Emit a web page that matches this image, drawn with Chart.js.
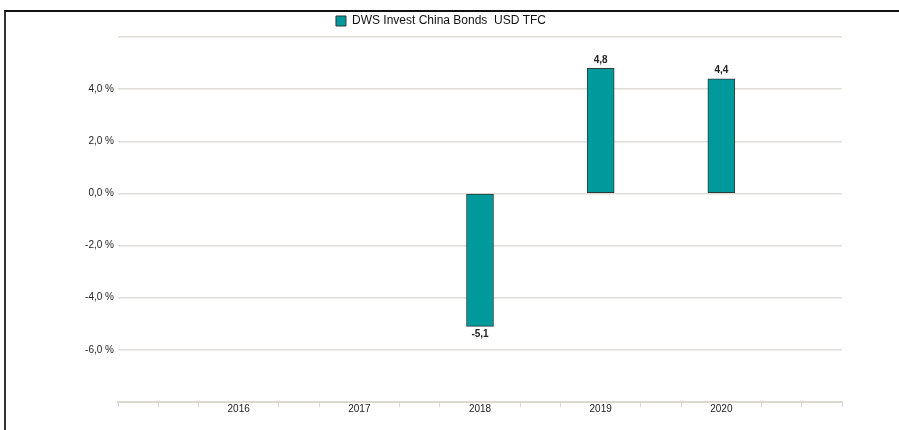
<!DOCTYPE html>
<html>
<head>
<meta charset="utf-8">
<script src="https://cdn.jsdelivr.net/npm/chart.js@4/dist/chart.umd.min.js"></script>
<style>
  body { margin: 0; background: #fff; }
  #wrap { position: relative; width: 899px; height: 430px; }
  #frame { position: absolute; left: 4px; top: 10px; right: 0; bottom: 0;
           border-left: 2px solid #333; border-top: 2px solid #111; pointer-events: none; }
</style>
</head>
<body>
<div id="wrap">
  <canvas id="myChart" width="899" height="430"></canvas>
  <div id="frame"></div>
</div>
<script>
// Jahre und Wertentwicklung in %
var years = [2016, 2017, 2018, 2019, 2020];
var values = [null, null, -5.1, 4.8, 4.4];
var seriesName = "DWS Invest China Bonds  USD TFC";
var yTicks = [-8, -6, -4, -2, 0, 2, 4, 6];

var gridColor = '#e0ddd6';
var axisColor = '#dcd8cf';

function fmt(v, dec) {
  return v.toFixed(dec).replace('.', ',');
}

// Punkte fuer die Balken
var points = [];
for (let i = 0; i < years.length; i++) {
  if (values[i] !== null) {
    points.push({ x: years[i], y: values[i] });
  }
}

// Werte an die Balken schreiben
var barLabels = {
  id: 'barLabels',
  afterDatasetsDraw(chart) {
    const ctx = chart.ctx;
    const meta = chart.getDatasetMeta(0);
    ctx.save();
    ctx.font = 'bold 10px "Liberation Sans", Arial, sans-serif';
    ctx.fillStyle = '#222';
    ctx.textAlign = 'center';
    meta.data.forEach(function (bar, i) {
      const v = points[i].y;
      if (v >= 0) {
        ctx.textBaseline = 'bottom';
        ctx.fillText(fmt(v, 1), bar.x, bar.y - 3);
      } else {
        ctx.textBaseline = 'top';
        ctx.fillText(fmt(v, 1), bar.x, bar.y + 3);
      }
    });
    ctx.restore();
  }
};

var myChart = new Chart(document.getElementById('myChart'), {
  type: 'bar',
  data: {
    datasets: [{
      label: seriesName,
      data: points,
      backgroundColor: '#009a9c',
      borderColor: '#2b3b3b',
      borderWidth: 1,
      borderSkipped: false,
      barThickness: 27
    }]
  },
  options: {
    responsive: false,
    animation: false,
    layout: { padding: { left: 40, right: 57, top: 8, bottom: 0 } },
    plugins: {
      legend: {
        display: true,
        position: 'top',
        labels: {
          boxWidth: 10,
          boxHeight: 10,
          padding: 7,
          color: '#111',
          font: { family: '"Liberation Sans", Arial, sans-serif', size: 12 }
        }
      },
      tooltip: { enabled: false }
    },
    scales: {
      x: {
        type: 'linear',
        min: 2015,
        max: 2021,
        offset: false,
        afterBuildTicks: function (scale) {
          const t = [];
          for (let k = 0; k <= 18; k++) t.push({ value: 2015 + k / 3 });
          scale.ticks = t;
        },
        afterFit: function (scale) { scale.height = 28; },
        grid: {
          offset: false,
          drawOnChartArea: false,
          drawTicks: true,
          tickLength: 5,
          color: function (c) {
            const v = c.tick ? c.tick.value : 0;
            const r = Math.round(v);
            if (Math.abs(v - r) < 0.01 && r >= 2016 && r <= 2020) return 'rgba(0,0,0,0)';
            return axisColor;
          }
        },
        border: { display: true, color: axisColor, width: 2 },
        ticks: {
          autoSkip: false,
          maxRotation: 0,
          padding: -4,
          color: '#222',
          font: { family: '"Liberation Sans", Arial, sans-serif', size: 10 },
          callback: function (v) {
            const r = Math.round(v);
            if (Math.abs(v - r) < 0.01 && years.indexOf(r) >= 0) return String(r);
            return '';
          }
        }
      },
      y: {
        min: -8,
        max: 6,
        afterBuildTicks: function (scale) {
          scale.ticks = yTicks.map(function (v) { return { value: v }; });
        },
        afterFit: function (scale) { scale.width = 78; },
        grid: { color: gridColor, lineWidth: 1.5, drawTicks: false },
        border: { display: false },
        ticks: {
          padding: 4,
          color: '#222',
          font: { family: '"Liberation Sans", Arial, sans-serif', size: 10 },
          callback: function (v) {
            if (v === -8 || v === 6) return '';
            return fmt(v, 1) + ' %';
          }
        }
      }
    }
  },
  plugins: [barLabels]
});
</script>
</body>
</html>
